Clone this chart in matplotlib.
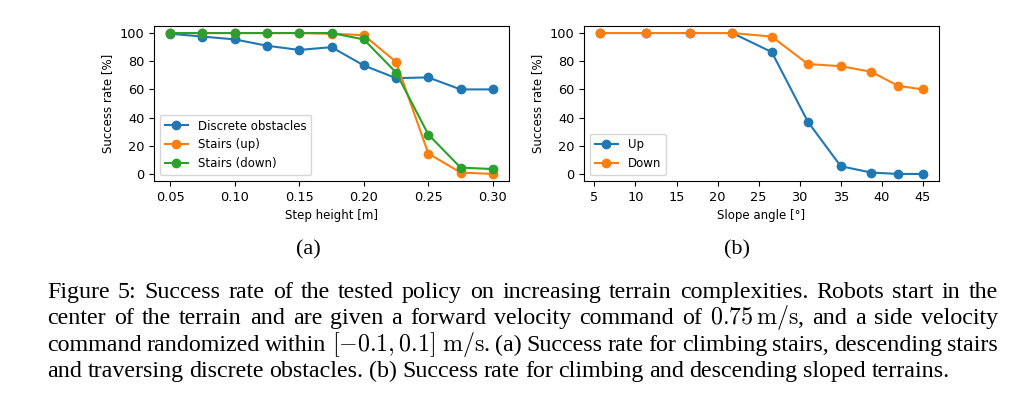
import matplotlib
matplotlib.use("Agg")
import matplotlib.pyplot as plt

# Données (a) : hauteur de marche
step_height = [0.05, 0.075, 0.10, 0.125, 0.15, 0.175, 0.20, 0.225, 0.25, 0.275, 0.30]
discrete_obstacles = [99.5, 97.5, 95.5, 91, 88, 90, 77, 68, 68.5, 60, 60]
stairs_up = [100, 100, 100, 100, 100, 99.5, 98.5, 79.5, 14.5, 1, 0]
stairs_down = [100, 100, 100, 100, 100, 100, 95.5, 72, 28, 4.5, 3.5]

# Données (b) : angle de pente
slope_angle = [5.7, 11.3, 16.7, 21.8, 26.6, 31.0, 35.0, 38.7, 42.0, 45.0]
slope_up = [100, 100, 100, 100, 86.5, 37, 5.5, 1, 0, 0]
slope_down = [100, 100, 100, 100, 97.5, 78, 76.5, 72.5, 62.5, 60]

rate_ticks = [0, 20, 40, 60, 80, 100]

caption_lines = [
    "Figure 5: Success rate of the tested policy on increasing terrain complexities. Robots start in the",
    r"center of the terrain and are given a forward velocity command of $0.75\,\mathrm{m/s}$, and a side velocity",
    r"command randomized within $[-0.1,0.1]\;\mathrm{m/s}$. (a) Success rate for climbing stairs, descending stairs",
    "and traversing discrete obstacles. (b) Success rate for climbing and descending sloped terrains.",
]

plt.rcParams["mathtext.fontset"] = "cm"
W, H = 1023, 398
fig = plt.figure(figsize=(W / 100, H / 100), dpi=100)

fs = 9.3
lfs = 8.5
ax1 = fig.add_axes([154 / W, 1 - 181 / H, 355 / W, 155 / H])
ax1.plot(step_height, discrete_obstacles, "o-", label="Discrete obstacles")
ax1.plot(step_height, stairs_up, "o-", label="Stairs (up)")
ax1.plot(step_height, stairs_down, "o-", label="Stairs (down)")
ax1.set_xlabel("Step height [m]", fontsize=lfs)
ax1.set_ylabel("Success rate [%]", fontsize=lfs)
ax1.set_yticks(rate_ticks)
ax1.tick_params(labelsize=fs)
ax1.legend(loc="lower left", fontsize=lfs)

ax2 = fig.add_axes([584 / W, 1 - 181 / H, 355 / W, 155 / H])
ax2.plot(slope_angle, slope_up, "o-", label="Up")
ax2.plot(slope_angle, slope_down, "o-", label="Down")
ax2.set_xlabel("Slope angle [°]", fontsize=lfs)
ax2.set_ylabel("Success rate [%]", fontsize=lfs)
ax2.set_yticks(rate_ticks)
ax2.tick_params(labelsize=fs)
ax2.legend(loc="lower left", fontsize=lfs)

serif = "Liberation Serif"
cap_fs = 17.3
fig.text(308 / W, 1 - 250 / H, "(a)", ha="center", va="center", family=serif, fontsize=16)
fig.text(737 / W, 1 - 250 / H, "(b)", ha="center", va="center", family=serif, fontsize=16)

# Légende justifiée, mot par mot
renderer = fig.canvas.get_renderer()
left, right = 47, 998
baselines = [298, 324, 351, 377]
for i, line in enumerate(caption_lines):
    words = line.split(" ")
    texts = [fig.text(0, 1 - baselines[i] / H, w, family=serif, fontsize=cap_fs,
                      va="baseline", ha="left") for w in words]
    widths = [t.get_window_extent(renderer).width for t in texts]
    if i < len(caption_lines) - 1:
        gap = (right - left - sum(widths)) / (len(words) - 1)
    else:
        gap = 5.5
    x = left
    for t, w in zip(texts, widths):
        t.set_x(x / W)
        x += w + gap

fig.savefig("out.png", dpi=100)
